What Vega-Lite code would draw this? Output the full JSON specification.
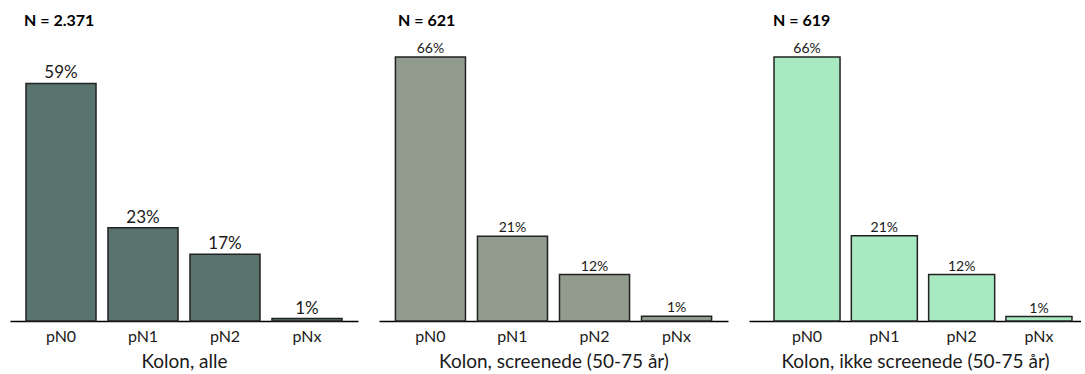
{
  "$schema": "https://vega.github.io/schema/vega-lite/v6.json",
  "background": "white",
  "padding": {"left": 10, "top": 13, "right": 0, "bottom": 0},
  "spacing": 21,
  "config": {
    "font": "Lato",
    "view": {"stroke": null},
    "axis": {"grid": false},
    "title": {"font": "Lato", "fontSize": 16, "fontWeight": "bold", "color": "#000000", "anchor": "start"}
  },
  "datasets": {
    "d": [
      {"panel": "alle", "cat": "pN0", "value": 59.4, "label": "59%"},
      {"panel": "alle", "cat": "pN1", "value": 23.3, "label": "23%"},
      {"panel": "alle", "cat": "pN2", "value": 16.7, "label": "17%"},
      {"panel": "alle", "cat": "pNx", "value": 0.6, "label": "1%"},
      {"panel": "scr", "cat": "pN0", "value": 66.0, "label": "66%"},
      {"panel": "scr", "cat": "pN1", "value": 21.2, "label": "21%"},
      {"panel": "scr", "cat": "pN2", "value": 11.6, "label": "12%"},
      {"panel": "scr", "cat": "pNx", "value": 1.2, "label": "1%"},
      {"panel": "ikke", "cat": "pN0", "value": 66.0, "label": "66%"},
      {"panel": "ikke", "cat": "pN1", "value": 21.3, "label": "21%"},
      {"panel": "ikke", "cat": "pN2", "value": 11.6, "label": "12%"},
      {"panel": "ikke", "cat": "pNx", "value": 1.1, "label": "1%"}
    ]
  },
  "hconcat": [
    {
      "width": 348, "height": 280,
      "data": {"name": "d"},
      "transform": [{"filter": "datum.panel === 'alle'"}],
      "title": {"text": "N = 2.371", "dx": 14, "offset": 12},
      "encoding": {
        "x": {"field": "cat", "type": "nominal", "sort": null,
          "scale": {"paddingInner": 0.146, "paddingOuter": 0.195, "align": 0.5},
          "axis": {"title": "Kolon, alle", "labelAngle": 0, "ticks": false, "domainColor": "#000000", "domainWidth": 1.5,
            "labelFont": "Lato", "labelFontSize": 16, "labelColor": "#1a1a1a", "labelPadding": 7,
            "titleFont": "Lato", "titleFontSize": 19, "titleFontWeight": "normal", "titleColor": "#1a1a1a", "titlePadding": 8}},
        "y": {"field": "value", "type": "quantitative", "scale": {"domain": [0, 70], "nice": false}, "axis": null}
      },
      "layer": [
        {"mark": {"type": "bar", "fill": "#59736e", "stroke": "#222222", "strokeWidth": 1.5}},
        {"mark": {"type": "text", "baseline": "bottom", "dy": -1, "fontSize": 17, "color": "#1a1a1a", "font": "Lato"},
         "encoding": {"text": {"field": "label"}}}
      ]
    },
    {
      "width": 349, "height": 280,
      "data": {"name": "d"},
      "transform": [{"filter": "datum.panel === 'scr'"}],
      "title": {"text": "N = 621", "dx": 19, "offset": 12},
      "encoding": {
        "x": {"field": "cat", "type": "nominal", "sort": null,
          "scale": {"paddingInner": 0.146, "paddingOuter": 0.2, "align": 0.5},
          "axis": {"title": "Kolon, screenede (50-75 år)", "labelAngle": 0, "ticks": false, "domainColor": "#000000", "domainWidth": 1.5,
            "labelFont": "Lato", "labelFontSize": 16, "labelColor": "#1a1a1a", "labelPadding": 7,
            "titleFont": "Lato", "titleFontSize": 19, "titleFontWeight": "normal", "titleColor": "#1a1a1a", "titlePadding": 8}},
        "y": {"field": "value", "type": "quantitative", "scale": {"domain": [0, 70], "nice": false}, "axis": null}
      },
      "layer": [
        {"mark": {"type": "bar", "fill": "#919b8e", "stroke": "#222222", "strokeWidth": 1.5}},
        {"mark": {"type": "text", "baseline": "bottom", "dy": -1, "fontSize": 14, "color": "#1a1a1a", "font": "Lato"},
         "encoding": {"text": {"field": "label"}}}
      ]
    },
    {
      "width": 332, "height": 280,
      "data": {"name": "d"},
      "transform": [{"filter": "datum.panel === 'ikke'"}],
      "title": {"text": "N = 619", "dx": 24, "offset": 12},
      "encoding": {
        "x": {"field": "cat", "type": "nominal", "sort": null,
          "scale": {"paddingInner": 0.146, "paddingOuter": 0.22, "align": 0.735},
          "axis": {"title": "Kolon, ikke screenede (50-75 år)", "labelAngle": 0, "ticks": false, "domainColor": "#000000", "domainWidth": 1.5,
            "labelFont": "Lato", "labelFontSize": 16, "labelColor": "#1a1a1a", "labelPadding": 7,
            "titleFont": "Lato", "titleFontSize": 19, "titleFontWeight": "normal", "titleColor": "#1a1a1a", "titlePadding": 8}},
        "y": {"field": "value", "type": "quantitative", "scale": {"domain": [0, 70], "nice": false}, "axis": null}
      },
      "layer": [
        {"mark": {"type": "bar", "fill": "#a9e9c1", "stroke": "#222222", "strokeWidth": 1.5}},
        {"mark": {"type": "text", "baseline": "bottom", "dy": -1, "fontSize": 14, "color": "#1a1a1a", "font": "Lato"},
         "encoding": {"text": {"field": "label"}}}
      ]
    }
  ]
}
